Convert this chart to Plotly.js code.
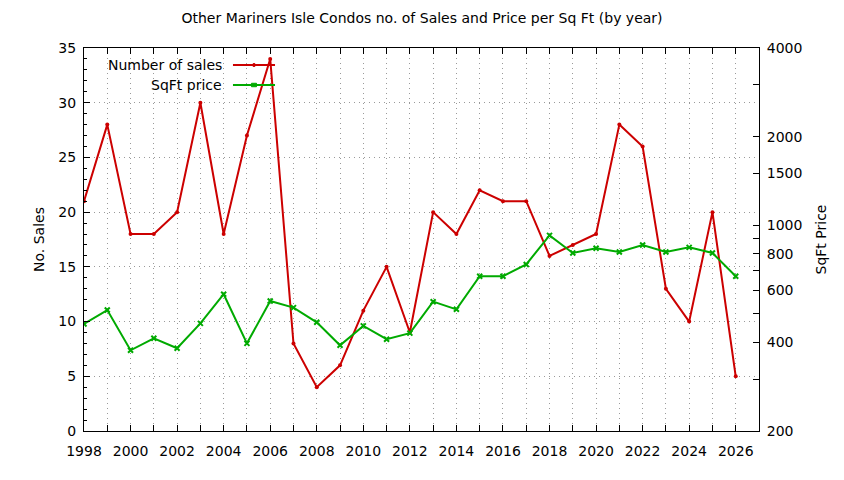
<!DOCTYPE html>
<html>
<head>
<meta charset="utf-8">
<script src="https://cdn.plot.ly/plotly-3.0.1.min.js"></script>
<style>
  body { margin: 0; background: #fff; }
  #chart { width: 844px; height: 480px; }
</style>
</head>
<body>
<div id="chart"></div>
<script>
// values
var years = [1998, 1999, 2000, 2001, 2002, 2003, 2004, 2005, 2006, 2007,
  2008, 2009, 2010, 2011, 2012, 2013, 2014, 2015, 2016, 2017,
  2018, 2019, 2020, 2021, 2022, 2023, 2024, 2025, 2026];
var numSales = [21, 28, 18, 18, 20, 30, 18, 27, 34, 8,
  4, 6, 11, 15, 9, 20, 18, 22, 21, 21,
  16, 17, 18, 28, 26, 13, 10, 20, 5];
var sqftPrice = [462, 515, 376, 413, 382, 464, 583, 397, 553, 525,
  468, 391, 455, 410, 430, 550, 518, 671, 671, 736,
  924, 805, 835, 811, 857, 811, 841, 805, 671];
var priceTicks = [200, 300, 400, 500, 600, 700, 800, 900, 1000, 1500, 2000, 3000, 4000];
var priceLabels = ['200', '', '400', '', '600', '', '800', '', '1000', '1500', '2000', '', '4000'];

var RED = 'rgb(204,0,0)';
var GREEN = 'rgb(0,170,0)';
var FONT = 'DejaVu Sans, sans-serif';
var GRID = '#9a9a9a';
var GDASH = '1px,4px';

var sales = {
  x: years,
  y: numSales,
  type: 'scatter',
  mode: 'lines+markers',
  name: 'Number of sales',
  line: { color: RED, width: 2 },
  marker: { color: RED, symbol: 'circle', size: 4 },
  yaxis: 'y'
};

var price = {
  x: years,
  y: sqftPrice,
  type: 'scatter',
  mode: 'lines+markers',
  name: 'SqFt price',
  line: { color: GREEN, width: 2 },
  marker: { color: GREEN, symbol: 'x-thin', size: 5, line: { color: GREEN, width: 2 } },
  yaxis: 'y2'
};

// legend drawn gnuplot style: text on the left, sample on the right
function legendRow(label, yp) {
  return {
    text: label, xref: 'paper', yref: 'paper', x: 0.2074, y: yp,
    xanchor: 'right', yanchor: 'middle', showarrow: false,
    font: { family: FONT, size: 14, color: '#000' }
  };
}
function legendLine(color, yp) {
  return {
    type: 'line', xref: 'paper', yref: 'paper',
    x0: 0.2207, x1: 0.2830, y0: yp, y1: yp,
    line: { color: color, width: 2 }
  };
}

var layout = {
  width: 844,
  height: 480,
  margin: { l: 84, r: 85, t: 48, b: 49 },
  paper_bgcolor: '#fff',
  plot_bgcolor: '#fff',
  showlegend: false,
  font: { family: FONT, size: 13, color: '#000' },
  title: {
    text: 'Other Mariners Isle Condos no. of Sales and Price per Sq Ft (by year)',
    x: 0.5, xanchor: 'center', y: 0.962, yanchor: 'middle',
    font: { family: FONT, size: 14 }
  },
  xaxis: {
    range: [1998, 2027],
    tickmode: 'linear', tick0: 1998, dtick: 2,
    ticks: 'inside', ticklen: 6, tickcolor: '#000',
    ticklabelstandoff: 7,
    showline: true, linecolor: '#000', linewidth: 1, mirror: 'ticks',
    showgrid: true, gridcolor: GRID, griddash: GDASH, gridwidth: 1,
    minor: { dtick: 1, ticks: 'inside', ticklen: 6, tickcolor: '#000',
      showgrid: true, gridcolor: GRID, griddash: GDASH },
    zeroline: false,
    tickfont: { family: FONT, size: 14 }
  },
  yaxis: {
    range: [0, 35],
    tickmode: 'linear', tick0: 0, dtick: 5,
    ticks: 'inside', ticklen: 6, tickcolor: '#000',
    ticklabelstandoff: 4,
    showline: true, linecolor: '#000', linewidth: 1,
    showgrid: true, gridcolor: GRID, griddash: GDASH, gridwidth: 1,
    minor: { dtick: 1, ticks: 'inside', ticklen: 3, tickcolor: '#000', showgrid: false },
    zeroline: false,
    tickfont: { family: FONT, size: 14 },
    title: { text: 'No. Sales', standoff: 10, font: { family: FONT, size: 14 } }
  },
  yaxis2: {
    type: 'log',
    overlaying: 'y',
    side: 'right',
    range: [Math.log10(200), Math.log10(4000)],
    tickmode: 'array', tickvals: priceTicks, ticktext: priceLabels,
    ticks: 'inside', ticklen: 6, tickcolor: '#000',
    ticklabelstandoff: 4,
    showline: true, linecolor: '#000', linewidth: 1,
    showgrid: false, zeroline: false,
    tickfont: { family: FONT, size: 14 },
    title: { text: 'SqFt Price', standoff: 14, font: { family: FONT, size: 14 } }
  },
  annotations: [
    legendRow('Number of sales', 0.9556),
    legendRow('SqFt price', 0.9034)
  ],
  shapes: [
    legendLine(RED, 0.9556),
    legendLine(GREEN, 0.9034),
    { type: 'circle', xref: 'paper', yref: 'paper',
      x0: 0.2496, x1: 0.2541, y0: 0.9516, y1: 0.9596,
      fillcolor: RED, line: { color: RED, width: 1 } },
    { type: 'rect', xref: 'paper', yref: 'paper',
      x0: 0.2481, x1: 0.2556, y0: 0.8989, y1: 0.9079,
      fillcolor: GREEN, line: { color: GREEN, width: 1 } }
  ]
};

Plotly.newPlot('chart', [sales, price], layout, { displayModeBar: false, staticPlot: true });
</script>
</body>
</html>
